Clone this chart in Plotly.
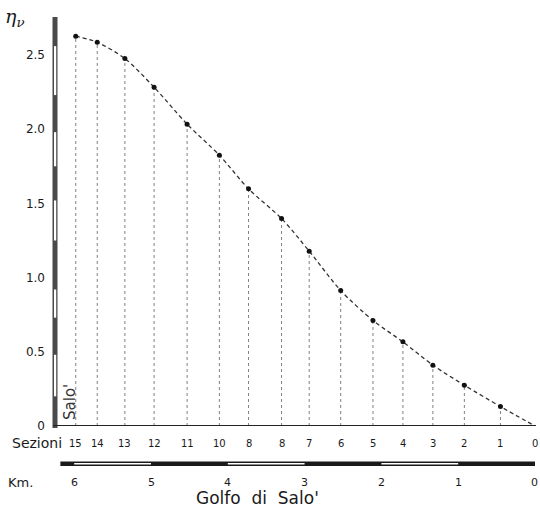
import plotly.graph_objects as go

# ---- data ----
sections = [15, 14, 13, 12, 11, 10, 9, 8, 7, 6, 5, 4, 3, 2, 1, 0]
section_labels = ["15", "14", "13", "12", "11", "10", "8", "8", "7", "6", "5", "4", "3", "2", "1", "0"]
section_km = [5.98, 5.70, 5.34, 4.96, 4.53, 4.11, 3.73, 3.30, 2.94, 2.53, 2.11, 1.72, 1.33, 0.92, 0.45, 0.0]
eta_v = [2.627, 2.586, 2.476, 2.283, 2.034, 1.825, 1.598, 1.398, 1.178, 0.913, 0.711, 0.567, 0.410, 0.275, 0.131, 0.0]
km_ticks = [6, 5, 4, 3, 2, 1, 0]
y_ticks = [0, 0.5, 1.0, 1.5, 2.0, 2.5]
y_ticktext = ["0", "0.5", "1.0", "1.5", "2.0", "2.5"]

FONT = "DejaVu Sans"
INK = "#1a1a1a"

fig = go.Figure()

# vertical dotted drop lines
vx, vy = [], []
for k, v in zip(section_km, eta_v):
    if v > 0:
        vx += [k, k, None]
        vy += [0, v, None]
fig.add_trace(go.Scatter(x=vx, y=vy, mode="lines",
                         line=dict(color="#808080", width=1, dash="dot"),
                         hoverinfo="skip", showlegend=False))

# dashed smooth curve
fig.add_trace(go.Scatter(x=section_km, y=eta_v, mode="lines",
                         line=dict(color="#333333", width=1.3, dash="4px,3px",
                                   shape="spline", smoothing=0.8),
                         cliponaxis=False, showlegend=False))
# points
fig.add_trace(go.Scatter(x=section_km[:-1], y=eta_v[:-1], mode="markers",
                         marker=dict(color="#111111", size=5),
                         cliponaxis=False, showlegend=False))

# plot geometry (pixels)
W, H = 540, 514
L, R = 57, 2
T, B = 17, 88
plot_h = H - T - B
plot_w = W - L - R


def py(pix):
    return (H - B - pix) / plot_h


def px(pix):
    return (pix - L) / plot_w


shapes = []
# y-axis scale bar
shapes.append(dict(type="rect", xref="paper", yref="paper",
                   x0=px(52.5), x1=px(57.5), y0=py(428), y1=py(17),
                   fillcolor="#4a4a4a", line=dict(width=0)))
for a, b in [(0.2, 0.48), (0.73, 0.92), (1.25, 1.52), (1.75, 1.98), (2.23, 2.56)]:
    shapes.append(dict(type="rect", xref="paper", yref="y",
                       x0=px(54.0), x1=px(56.2), y0=a, y1=b,
                       fillcolor="white", line=dict(width=0)))
# baseline
shapes.append(dict(type="line", xref="paper", yref="y",
                   x0=px(53), x1=px(536), y0=0, y1=0,
                   line=dict(color="#222222", width=2)))
# km scale bar
shapes.append(dict(type="rect", xref="x", yref="paper",
                   x0=6.18, x1=0.0, y0=py(466), y1=py(461.5),
                   fillcolor="#1a1a1a", line=dict(width=0)))
for a, b in [(6.0, 5.0), (4.0, 3.0), (2.0, 1.0)]:
    shapes.append(dict(type="rect", xref="x", yref="paper",
                       x0=a, x1=b, y0=py(464.6), y1=py(462.9),
                       fillcolor="white", line=dict(width=0)))

annotations = []
for k, lab in zip(section_km, section_labels):
    annotations.append(dict(x=k, y=py(443), xref="x", yref="paper", text=lab,
                            showarrow=False, font=dict(family=FONT, size=10, color=INK),
                            xanchor="center" if k > 0.05 else "right",
                            xshift=0 if k > 0.05 else 5,
                            yanchor="middle"))
for k in km_ticks:
    annotations.append(dict(x=k, y=py(482), xref="x", yref="paper", text=str(k),
                            showarrow=False, font=dict(family=FONT, size=11, color=INK),
                            xanchor="center" if k > 0 else "right",
                            xshift=0 if k > 0 else 5,
                            yanchor="middle"))
annotations += [
    dict(x=px(64), y=py(443), xref="paper", yref="paper", text="Sezioni",
         showarrow=False, font=dict(family=FONT, size=14, color=INK),
         xanchor="right", yanchor="middle"),
    dict(x=px(6), y=py(482), xref="paper", yref="paper", text="Km.",
         showarrow=False, font=dict(family=FONT, size=13, color=INK),
         xanchor="left", yanchor="middle"),
    dict(x=px(257), y=py(498), xref="paper", yref="paper", text="Golfo  di  Salo'",
         showarrow=False, font=dict(family=FONT, size=17, color=INK),
         xanchor="center", yanchor="middle"),
    dict(x=px(70), y=py(402), xref="paper", yref="paper", text="Salo'",
         showarrow=False, textangle=-90, font=dict(family=FONT, size=15, color="#333333"),
         xanchor="center", yanchor="middle"),
    dict(x=px(3), y=py(18), xref="paper", yref="paper", text="<i>η<sub>ν</sub></i>",
         showarrow=False, font=dict(family="DejaVu Serif", size=19, color=INK),
         xanchor="left", yanchor="middle"),
]

fig.update_layout(
    width=W, height=H,
    margin=dict(l=L, r=R, t=T, b=B),
    paper_bgcolor="white", plot_bgcolor="white",
    xaxis=dict(range=[6.224, -0.039], showgrid=False, zeroline=False,
               showticklabels=False, showline=False, ticks=""),
    yaxis=dict(range=[0, (H - B - T) / 148.4], showgrid=False, zeroline=False,
               showline=False, tickvals=y_ticks, ticktext=y_ticktext, ticks="",
               ticklabelstandoff=11,
               tickfont=dict(family=FONT, size=12, color=INK)),
    shapes=shapes,
    annotations=annotations,
    showlegend=False,
)

fig.write_html("out.html", config={"displayModeBar": False},
               post_script="document.body.style.margin='0';document.body.style.overflow='hidden';")
